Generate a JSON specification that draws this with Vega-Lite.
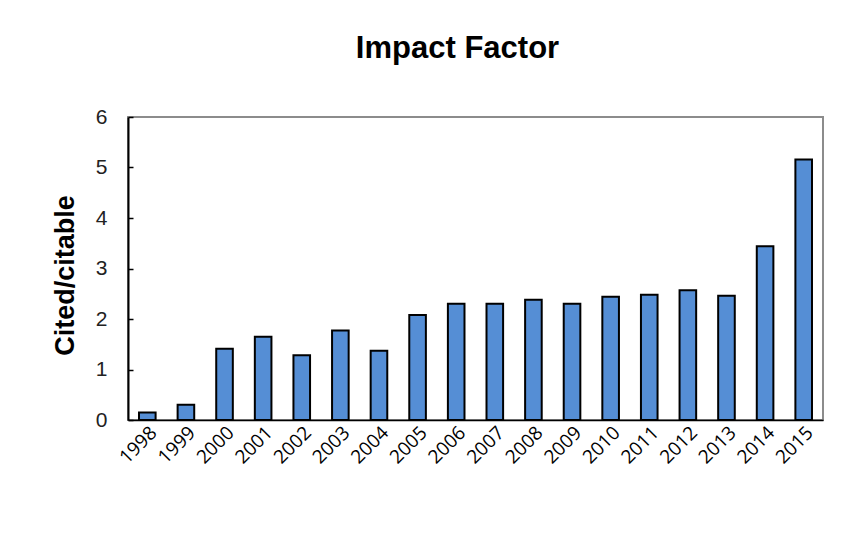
{
  "$schema": "https://vega.github.io/schema/vega-lite/v6.json",
  "autosize": {"type": "none"},
  "width": 695,
  "height": 303,
  "padding": {"left": 128, "top": 117, "right": 20, "bottom": 115},
  "background": "white",
  "title": {
    "text": "Impact Factor",
    "font": "Liberation Sans",
    "fontSize": 31,
    "fontWeight": "bold",
    "color": "black",
    "anchor": "middle",
    "dx": -18,
    "baseline": "alphabetic",
    "offset": 17
  },
  "data": {
    "values": [
      {"year": "1998", "value": 0.15},
      {"year": "1999", "value": 0.30},
      {"year": "2000", "value": 1.41},
      {"year": "2001", "value": 1.65},
      {"year": "2002", "value": 1.28},
      {"year": "2003", "value": 1.77},
      {"year": "2004", "value": 1.37},
      {"year": "2005", "value": 2.08},
      {"year": "2006", "value": 2.30},
      {"year": "2007", "value": 2.30},
      {"year": "2008", "value": 2.38},
      {"year": "2009", "value": 2.30},
      {"year": "2010", "value": 2.44},
      {"year": "2011", "value": 2.48},
      {"year": "2012", "value": 2.57},
      {"year": "2013", "value": 2.46},
      {"year": "2014", "value": 3.44},
      {"year": "2015", "value": 5.16}
    ]
  },
  "mark": {"type": "bar", "fill": "#558ED5", "stroke": "black", "strokeWidth": 2},
  "encoding": {
    "x": {
      "field": "year",
      "type": "ordinal",
      "scale": {"paddingInner": 0.57, "paddingOuter": 0.285},
      "axis": {
        "title": null,
        "ticks": false,
        "labelAngle": -45,
        "labelAlign": "right",
        "labelBaseline": "top",
        "labelFont": "Open Sans",
        "labelFontSize": 19,
        "labelColor": "black",
        "labelPadding": 3,
        "domainColor": "black",
        "domainWidth": 1.5
      }
    },
    "y": {
      "field": "value",
      "type": "quantitative",
      "scale": {"domain": [0, 6], "nice": false},
      "axis": {
        "title": "Cited/citable",
        "titleFont": "Liberation Sans",
        "titleFontSize": 27,
        "titleFontWeight": "bold",
        "titleColor": "black",
        "titleAngle": -90,
        "titleAlign": "center",
        "titleBaseline": "alphabetic",
        "titleX": -55,
        "titleY": 158,
        "values": [0, 1, 2, 3, 4, 5, 6],
        "grid": false,
        "tickSize": -5,
        "tickColor": "black",
        "tickWidth": 1.5,
        "labelFont": "Liberation Sans",
        "labelFontSize": 21,
        "labelColor": "#222222",
        "labelPadding": 26,
        "domainColor": "black",
        "domainWidth": 2
      }
    }
  },
  "config": {
    "view": {"stroke": "#8c8c8c", "strokeWidth": 2}
  }
}
